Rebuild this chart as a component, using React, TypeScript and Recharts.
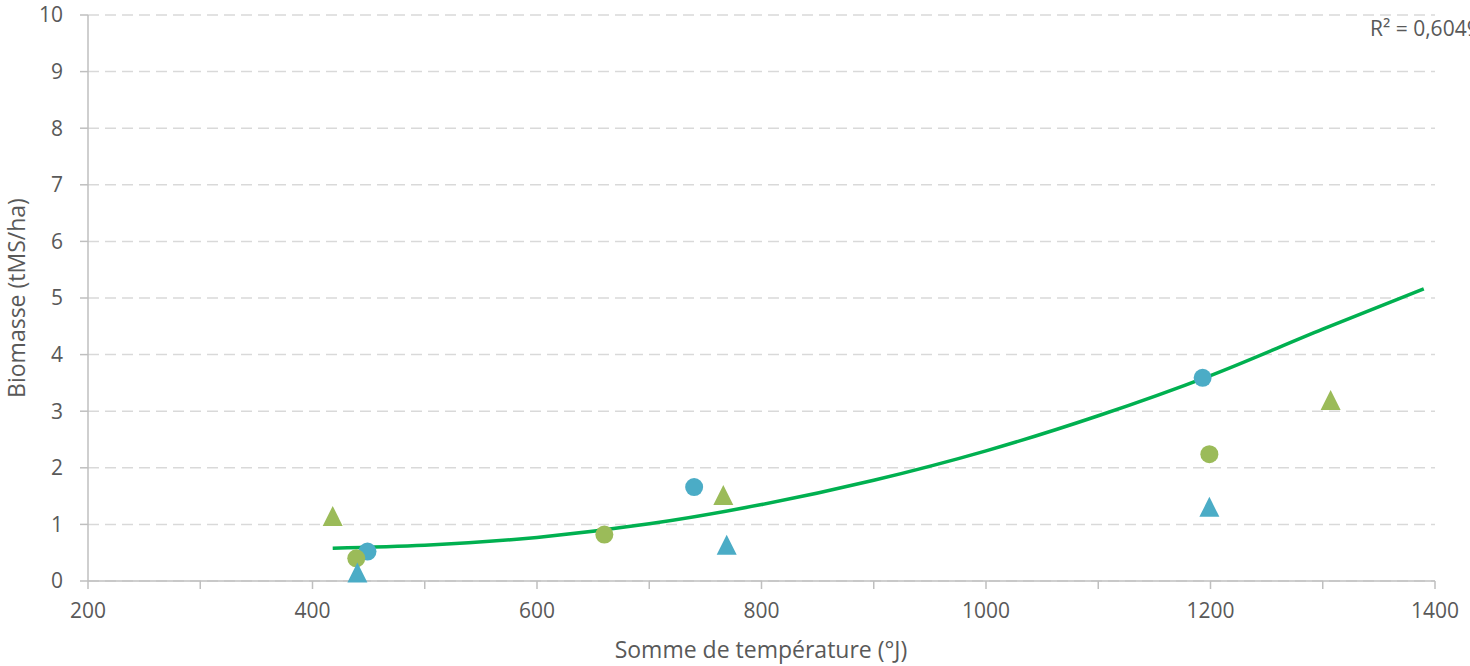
import React from "react";
import {
  ComposedChart,
  Scatter,
  Line,
  XAxis,
  YAxis,
  CartesianGrid,
  Label,
} from "recharts";

const blueCircles = [
  { x: 449, y: 0.52 },
  { x: 740, y: 1.66 },
  { x: 1193, y: 3.59 },
];
const greenCircles = [
  { x: 439, y: 0.4 },
  { x: 660, y: 0.82 },
  { x: 1199, y: 2.24 },
];
const greenTriangles = [
  { x: 418, y: 1.15 },
  { x: 766, y: 1.52 },
  { x: 1307, y: 3.2 },
];
const blueTriangles = [
  { x: 440, y: 0.15 },
  { x: 769, y: 0.64 },
  { x: 1199, y: 1.31 },
];
// trend curve
const trend = [
  { x: 418, y: 0.58 },
  { x: 500, y: 0.63 },
  { x: 600, y: 0.77 },
  { x: 700, y: 1.01 },
  { x: 800, y: 1.35 },
  { x: 900, y: 1.78 },
  { x: 1000, y: 2.3 },
  { x: 1100, y: 2.92 },
  { x: 1200, y: 3.63 },
  { x: 1300, y: 4.45 },
  { x: 1390, y: 5.16 },
];

const xTicks = [200, 300, 400, 500, 600, 700, 800, 900, 1000, 1100, 1200, 1300, 1400];
const yTicks = [0, 1, 2, 3, 4, 5, 6, 7, 8, 9, 10];

const BLUE = "#4BACC6";
const GREEN = "#9BBB59";
const LINE = "#00B050";
const TEXT = "#595959";
const AXIS = "#BFBFBF";
const FONT = "'Open Sans', sans-serif";

const circle = (color: string) => (p: any) => (
  <circle cx={p.cx} cy={p.cy} r={9} fill={color} />
);
const triangle = (color: string) => (p: any) => {
  const s = 10;
  const h = 10;
  return (
    <polygon
      points={`${p.cx - s},${p.cy + h} ${p.cx + s},${p.cy + h} ${p.cx},${p.cy - h}`}
      fill={color}
    />
  );
};

export default function App() {
  return (
    <div style={{ position: "absolute", left: 0, top: 0, width: 1470, height: 666, background: "#fff", overflow: "hidden" }}>
      <ComposedChart
        width={1470}
        height={666}
        margin={{ top: 15, right: 35, left: 0, bottom: 0 }}
      >
        <CartesianGrid
          horizontal
          vertical={false}
          stroke="#D9D9D9"
          strokeDasharray="11 6"
          strokeWidth={1.5}
        />
        <XAxis
          type="number"
          dataKey="x"
          domain={[200, 1400]}
          ticks={xTicks}
          interval={0}
          height={85}
          stroke={AXIS}
          strokeWidth={1.5}
          tickSize={8}
          tickMargin={14}
          tickFormatter={(v: number) => (v % 200 === 0 ? String(v) : "")}
          tick={{ fill: TEXT, fontSize: 21, fontFamily: FONT }}
        >
          <Label
            content={() => (
              <text x={761} y={658} textAnchor="middle" fill={TEXT} fontSize={23} fontFamily={FONT}>
                Somme de température (°J)
              </text>
            )}
          />
        </XAxis>
        <YAxis
          type="number"
          dataKey="y"
          domain={[0, 10]}
          ticks={yTicks}
          interval={0}
          width={88}
          stroke={AXIS}
          strokeWidth={1.5}
          tickSize={8}
          tickMargin={17}
          tick={{ fill: TEXT, fontSize: 21, fontFamily: FONT }}
        >
          <Label
            content={() => (
              <text
                x={25}
                y={298}
                textAnchor="middle"
                fill={TEXT}
                fontSize={23}
                fontFamily={FONT}
                transform="rotate(-90 25 298)"
              >
                Biomasse (tMS/ha)
              </text>
            )}
          />
        </YAxis>
        <Scatter data={blueCircles} shape={circle(BLUE)} isAnimationActive={false} />
        <Scatter data={greenCircles} shape={circle(GREEN)} isAnimationActive={false} />
        <Scatter data={greenTriangles} shape={triangle(GREEN)} isAnimationActive={false} />
        <Scatter data={blueTriangles} shape={triangle(BLUE)} isAnimationActive={false} />
        <Line
          data={trend}
          dataKey="y"
          type="monotone"
          stroke={LINE}
          strokeWidth={3.5}
          dot={false}
          activeDot={false}
          isAnimationActive={false}
        />
      </ComposedChart>
      <div
        style={{
          position: "absolute",
          left: 1370,
          top: 14,
          fontFamily: FONT,
          fontSize: 21,
          color: TEXT,
          whiteSpace: "nowrap",
        }}
      >
        R² = 0,6049
      </div>
    </div>
  );
}
